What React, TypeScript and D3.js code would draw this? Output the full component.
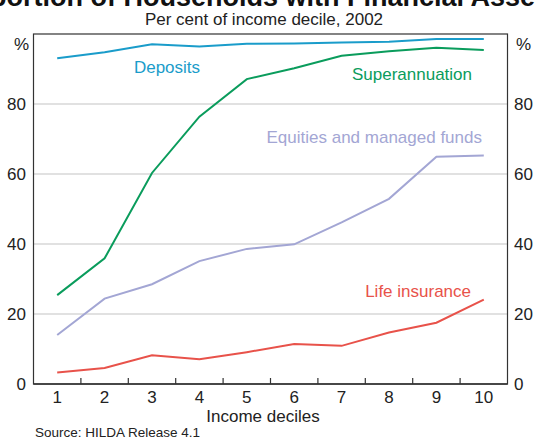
import React from "react";
import * as d3 from "d3";

const deciles = ["1", "2", "3", "4", "5", "6", "7", "8", "9", "10"];
const deposits = [93.1, 94.8, 97.1, 96.4, 97.2, 97.3, 97.6, 97.8, 98.6, 98.6];
const superannuation = [25.4, 35.9, 60.3, 76.4, 87.1, 90.2, 93.8, 95.1, 96.1, 95.4];
const equities = [14.0, 24.4, 28.5, 35.1, 38.6, 39.9, 46.2, 52.9, 64.9, 65.3];
const lifeInsurance = [3.3, 4.6, 8.2, 7.1, 9.1, 11.4, 10.9, 14.7, 17.5, 24.1];
const yTicks = [0, 20, 40, 60, 80];

const W = 536;
const H = 441;
const L = 33.5;
const R = 507.5;
const T = 34;
const B = 384;
const FONT = "Arial, 'Liberation Sans', Helvetica, sans-serif";

const x = d3.scaleBand<string>().domain(deciles).range([L, R]);
const y = d3.scaleLinear().domain([0, 100]).range([B, T]);
const cx = (d: string) => (x(d) as number) + x.bandwidth() / 2;

const series = [
  { name: "Deposits", values: deposits, color: "#1a9cca", lx: 167, ly: 73, anchor: "middle" },
  { name: "Superannuation", values: superannuation, color: "#0a9c5c", lx: 472, ly: 80, anchor: "end" },
  { name: "Equities and managed funds", values: equities, color: "#a3a6d4", lx: 482, ly: 143, anchor: "end" },
  { name: "Life insurance", values: lifeInsurance, color: "#e8524a", lx: 471, ly: 297, anchor: "end" },
];

export default function App() {
  const line = d3
    .line<number>()
    .x((_, i) => cx(deciles[i]))
    .y((v) => y(v));

  return (
    <svg
      width={W}
      height={H}
      style={{ position: "absolute", left: 0, top: 0, background: "#fff" }}
      fontFamily={FONT}
    >
      <text x={-55} y={5.5} fontSize={27} fontWeight="bold" fill="#111">
        Proportion of Households with Financial Assets
      </text>
      <text x={264} y={24.5} fontSize={17} textAnchor="middle" fill="#222">
        Per cent of income decile, 2002
      </text>

      {yTicks.filter((t) => t > 0).map((t) => (
        <line key={t} x1={L} x2={R} y1={y(t)} y2={y(t)} stroke="#c4c4c4" strokeWidth={1.2} />
      ))}

      {series.map((s) => (
        <path key={s.name} d={line(s.values) || ""} fill="none" stroke={s.color} strokeWidth={2} />
      ))}

      {series.map((s) => (
        <text
          key={s.name + "l"}
          x={s.lx}
          y={s.ly}
          fontSize={17}
          textAnchor={s.anchor as any}
          fill={s.color}
        >
          {s.name}
        </text>
      ))}

      <rect x={L} y={T} width={R - L} height={B - T} fill="none" stroke="#333" strokeWidth={1.2} />
      <line x1={L} x2={R} y1={B} y2={B} stroke="#333" strokeWidth={1.6} />

      {deciles.slice(1).map((d) => (
        <line
          key={"t" + d}
          x1={x(d) as number}
          x2={x(d) as number}
          y1={B}
          y2={B - 6}
          stroke="#333"
          strokeWidth={1.2}
        />
      ))}

      {yTicks.map((t) => (
        <g key={"yl" + t}>
          <text x={26} y={y(t)} dy="0.36em" fontSize={17} textAnchor="end" fill="#222">
            {t}
          </text>
          <text x={514} y={y(t)} dy="0.36em" fontSize={17} textAnchor="start" fill="#222">
            {t}
          </text>
        </g>
      ))}
      <text x={29} y={50} fontSize={17} textAnchor="end" fill="#222">%</text>
      <text x={516} y={50} fontSize={17} textAnchor="start" fill="#222">%</text>

      {deciles.map((d) => (
        <text key={"xl" + d} x={cx(d)} y={403} fontSize={17} textAnchor="middle" fill="#222">
          {d}
        </text>
      ))}
      <text x={263} y={421.5} fontSize={17} textAnchor="middle" fill="#222">
        Income deciles
      </text>
      <text x={35} y={437} fontSize={13.5} fill="#222">
        Source: HILDA Release 4.1
      </text>
    </svg>
  );
}
